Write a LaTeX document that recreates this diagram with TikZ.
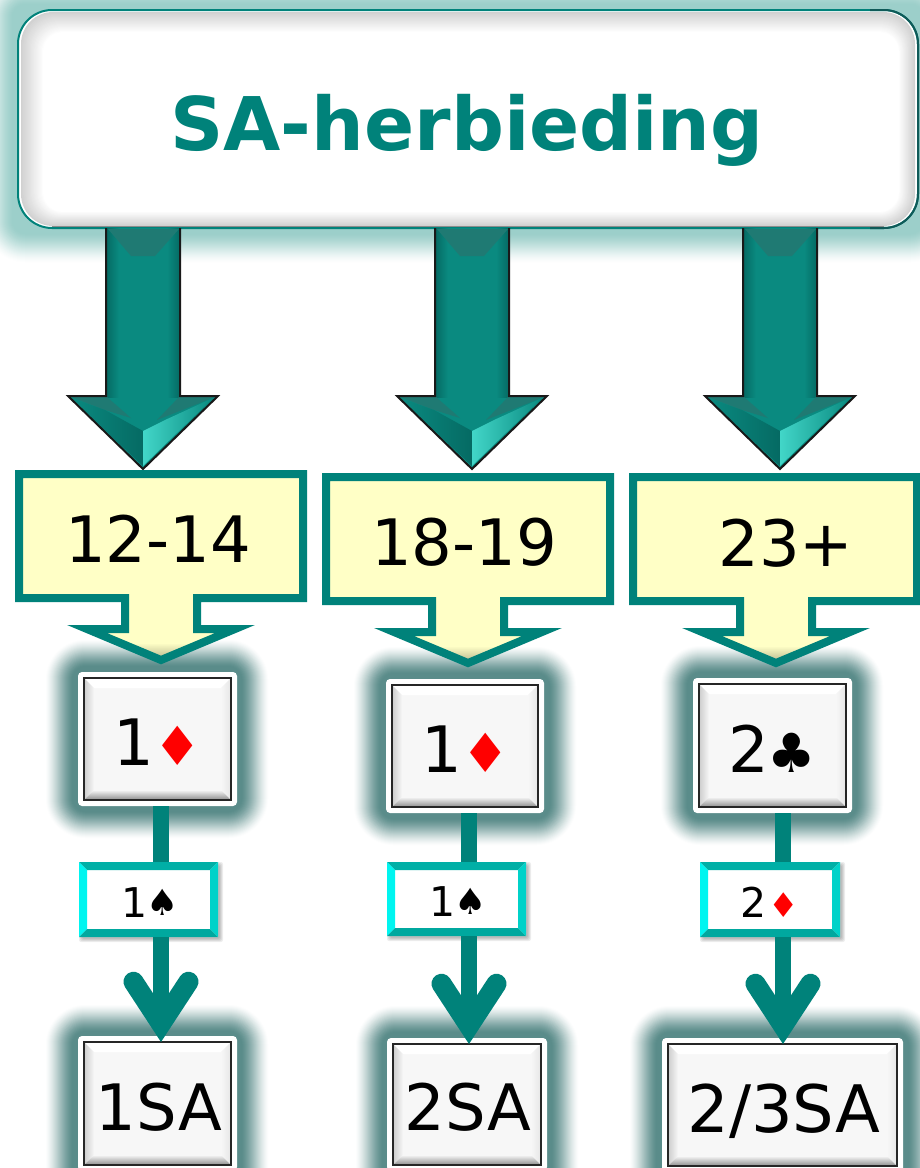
\documentclass[tikz,border=0pt]{standalone}
\usepackage{fontspec}
\setmainfont{DejaVu Sans}
\usetikzlibrary{arrows.meta}
\definecolor{teal}{HTML}{00827A}
\definecolor{yellowbox}{HTML}{FFFFC6}
\definecolor{cardface}{HTML}{F7F7F7}
\definecolor{aTeal}{HTML}{0A8A80}
\definecolor{aDark}{HTML}{056A63}
\definecolor{aBevel}{HTML}{1F7A73}
\definecolor{aBright}{HTML}{42D6C8}
\definecolor{HBtop}{HTML}{00AFA6}
\definecolor{HBleft}{HTML}{00F5F0}
\definecolor{HBright}{HTML}{00D2C9}
\definecolor{HBbot}{HTML}{00A89F}
\definecolor{edgeDark}{HTML}{0F5A58}
\tikzset{
  bignum/.style={font=\fontsize{64}{70}\selectfont,inner sep=0pt,anchor=base},
  smallnum/.style={font=\fontsize{41}{46}\selectfont,inner sep=0pt,anchor=base},
  reds/.style={text=red},
  conn/.style={draw=teal,line width=16pt},
  connarrow/.style={conn,-{Straight Barb[length=42pt,width=55pt,line cap=round,line join=miter,line width=20pt]}},
}
% x0 y0 x1 y1 R G B spread
\newcommand\softglow[8]{%
  \foreach \k in {1,...,#8}{%
    \pgfmathsetmacro\gr{#8+1-\k}%
    \pgfmathsetmacro\gs{min(1,(#8-\gr+1)/(#8-5))}%
    \pgfmathsetmacro\gp{\gs*\gs*(3-2*\gs)}%
    \pgfmathsetmacro\gq{0.5*\gp+0.5*\gs}%
    \pgfmathsetmacro\cR{1-(1-#5)*\gq}%
    \pgfmathsetmacro\cG{1-(1-#6)*\gq}%
    \pgfmathsetmacro\cB{1-(1-#7)*\gq}%
    \definecolor{gtmp}{rgb}{\cR,\cG,\cB}%
    \fill[gtmp,rounded corners=\gr pt+8pt] (#1-\gr,#2-\gr) rectangle (#3+\gr,#4+\gr);
  }}
\newcommand\blockarrow[1]{%
  \begin{scope}[shift={(#1,0)}]
    \fill[aTeal] (-37,396) -- (-75,396) -- (0,469) -- (75,396) -- (37,396) -- cycle;
    \fill[aTeal] (-37,228) rectangle (37,397);
    \shade[left color=aDark,right color=aTeal] (-37,228) rectangle (-24,397);
    \shade[left color=aTeal,right color=aDark] (24,228) rectangle (37,397);
    \fill[aBevel] (-35,229) -- (36,229) -- (12,256) -- (-12,256) -- cycle;
    \fill[aBevel] (-72,397) -- (-36,397) -- (-12,418) -- (-38,410) -- cycle;
    \fill[aBevel] (72,397) -- (36,397) -- (14,420) -- cycle;
    \shade[left color=aTeal,right color=aDark,draw=none] (-72,398) -- (-38,410) -- (0,431) -- (0,466) -- cycle;
    \shade[left color=aBright,right color=aTeal,draw=none] (0,466) -- (0,431) -- (22,420) -- (70,398) -- cycle;
    \draw[black!90,line width=2pt,line join=miter]
      (-37,228) -- (-37,396) -- (-75,396) -- (0,469) -- (75,396) -- (37,396) -- (37,228);
  \end{scope}}
\newcommand\callout[4]{% name, dx rect, dy, dx stem
  \begin{scope}[yshift=#3*-1pt]
    \path[fill=yellowbox] (19+#2,474) -- (303+#2,474) -- (303+#2,598) -- (197+#4,598) -- (197+#4,629) -- (235+#4,629) -- (161+#4,660) -- (87+#4,629) -- (125+#4,629) -- (125+#4,598) -- (19+#2,598) -- cycle;
    \shade[top color=yellowbox,bottom color=yellowbox!75!black,draw=none] (130+#4,643) -- (192+#4,643) -- (161+#4,657) -- cycle;
    \draw[teal,line width=8pt,line join=miter,miter limit=10]
      (19+#2,474) -- (303+#2,474) -- (303+#2,598) -- (197+#4,598) -- (197+#4,629) -- (235+#4,629) -- (161+#4,660) -- (87+#4,629) -- (125+#4,629) -- (125+#4,598) -- (19+#2,598) -- cycle;
  \end{scope}}
\newcommand\card[5]{% name x0 y0 x1 y1 (inner border)
  \node[fill=white,rounded corners=4pt,inner sep=0pt,outer sep=0pt,
        minimum width={(#4-#2+12)*1pt},minimum height={(#5-#3+12)*1pt}]
        (#1) at ({(#2+#4)/2},{(#3+#5)/2}) {};
  \node[fill=cardface,inner sep=0pt,outer sep=0pt,
        minimum width={(#4-#2)*1pt},minimum height={(#5-#3)*1pt}]
        (#1in) at ({(#2+#4)/2},{(#3+#5)/2}) {};
  \fill[white] (#2,#3) -- (#4,#3) -- (#4-10,#3+10) -- (#2+10,#3+10) -- cycle;
  \shade[left color=black!20,right color=cardface] (#2,#3) -- (#2+10,#3+10) -- (#2+10,#5-10) -- (#2,#5) -- cycle;
  \shade[left color=cardface,right color=black!10] (#4,#3) -- (#4-10,#3+10) -- (#4-10,#5-10) -- (#4,#5) -- cycle;
  \shade[top color=cardface,bottom color=black!45] (#2,#5) -- (#2+10,#5-10) -- (#4-10,#5-10) -- (#4,#5) -- cycle;
  \draw[black!85,line width=1.6pt] (#1in.north west) rectangle (#1in.south east);
}
\newcommand\bidbox[5]{% name x0 y0 x1 y1 (outer)
  \foreach \k in {1,...,4}{\pgfmathsetmacro\gr{5-\k}
    \fill[black,opacity=.07,rounded corners=2pt] (#2+4-\gr,#3+4-\gr) rectangle (#4+1+\gr,#5+1+\gr);}
  \node[fill=white,inner sep=0pt,outer sep=0pt,
        minimum width={(#4-#2)*1pt},minimum height={(#5-#3)*1pt}]
        (#1) at ({(#2+#4)/2},{(#3+#5)/2}) {};
  \fill[HBtop] (#2,#3) -- (#4,#3) -- (#4-8,#3+8) -- (#2+8,#3+8) -- cycle;
  \fill[HBleft] (#2,#3) -- (#2+8,#3+8) -- (#2+8,#5-8) -- (#2,#5) -- cycle;
  \fill[HBright] (#4,#3) -- (#4-8,#3+8) -- (#4-8,#5-8) -- (#4,#5) -- cycle;
  \fill[HBbot] (#2,#5) -- (#2+8,#5-8) -- (#4-8,#5-8) -- (#4,#5) -- cycle;
}
\begin{document}
\begin{tikzpicture}[x=1pt,y=-1pt]
\useasboundingbox (0,0) rectangle (920,1168);
\fill[white] (0,0) rectangle (920,1168);
% glows
\softglow{18}{10}{918}{228}{.612}{.812}{.792}{34}
\softglow{78}{672}{236}{806}{.353}{.549}{.541}{32}
\softglow{386}{679}{544}{813}{.353}{.549}{.541}{32}
\softglow{693}{678}{851}{813}{.353}{.549}{.541}{32}
\softglow{78}{1037}{236}{1190}{.353}{.549}{.541}{32}
\softglow{388}{1038}{546}{1190}{.353}{.549}{.541}{32}
\softglow{662}{1038}{903}{1190}{.353}{.549}{.541}{32}
% title
\node[draw=teal,line width=2pt,fill=white,rounded corners=34pt,inner sep=0pt,outer sep=0pt,
      minimum width=900pt,minimum height=218pt] (title) at (468,119) {};
\foreach \k in {0,1,...,20}{
  \pgfmathsetmacro\gq{18-0.9*\k}
  \pgfmathsetmacro\gb{226-0.7*\k}
  \pgfmathsetmacro\gc{32-\k*0.6}
  \pgfmathsetmacro\gl{21+1.1*\k}
  \pgfmathsetmacro\gh{915-0.8*\k}
  \fill[black!\gq,rounded corners=\gc pt] (\gl,12+\k) rectangle (\gh,\gb);
}
\draw[black!45,line width=1.5pt] (52,226.5) -- (884,226.5);
\draw[edgeDark,line width=2pt,rounded corners=34pt] (870,10) -- (918,10) -- (918,228) -- (870,228);
\node[font=\bfseries\fontsize{74}{80}\selectfont,text=teal,inner sep=0pt,anchor=base] (titletext) at (467,150) {SA-herbieding};
% block arrows
\blockarrow{143}
\blockarrow{472}
\blockarrow{780}
% callouts
\callout{y1}{0}{0}{0}
\callout{y2}{307}{3}{307}
\callout{y3}{614}{3}{615}
\node[bignum] (t1) at (158,562) {12-14};
\node[bignum] (t2) at (464,565) {18-19};
\node[bignum] (t3) at (786,566) {23+};
% cards
\card{c1}{84}{678}{231}{800}
\card{c2}{392}{685}{538}{807}
\card{c3}{699}{684}{846}{807}
\card{r1}{84}{1042}{231}{1165}
\card{r2}{393}{1044}{541}{1165}
\card{r3}{668}{1044}{897}{1166}
\node[bignum] (n1) at (134,765) {1};
\node[bignum,reds,font=\fontsize{54}{60}\selectfont] (n1s) at (178,765) {♦};
\node[bignum] (n2) at (442,772) {1};
\node[bignum,reds,font=\fontsize{54}{60}\selectfont] (n2s) at (486,772) {♦};
\node[bignum] (n3) at (749,772) {2};
\node[bignum,font=\fontsize{54}{60}\selectfont] (n3s) at (792,772) {♣};
\node[bignum] (a1) at (159,1130) {1SA};
\node[bignum] (a2) at (468,1130) {2SA};
\node[bignum,font=\fontsize{65.5}{70}\selectfont] (a3) at (784,1132) {2/3SA};
% bid boxes
\bidbox{b1}{79}{862}{218}{937}
\bidbox{b2}{387}{862}{526}{936}
\bidbox{b3}{700}{862}{840}{937}
\node[smallnum] (s1) at (135,917) {1};
\node[smallnum,font=\fontsize{36}{40}\selectfont] (s1s) at (163,915) {♠};
\node[smallnum] (s2) at (443,916) {1};
\node[smallnum,font=\fontsize{36}{40}\selectfont] (s2s) at (471,914) {♠};
\node[smallnum] (s3) at (754,917) {2};
\node[smallnum,reds,font=\fontsize{34}{40}\selectfont] (s3s) at (784,917) {♦};
% connectors
\coordinate (l1) at (161,0);
\coordinate (l2) at (469,0);
\coordinate (l3) at (783,0);
\draw[conn] (c1.south -| l1) -- (b1.north -| l1);
\draw[conn] (c2.south -| l2) -- (b2.north -| l2);
\draw[conn] (c3.south -| l3) -- (b3.north -| l3);
\draw[connarrow] (b1.south -| l1) -- (r1in.north -| l1);
\draw[connarrow] (b2.south -| l2) -- (r2in.north -| l2);
\draw[connarrow] (b3.south -| l3) -- (r3in.north -| l3);
\end{tikzpicture}
\end{document}
